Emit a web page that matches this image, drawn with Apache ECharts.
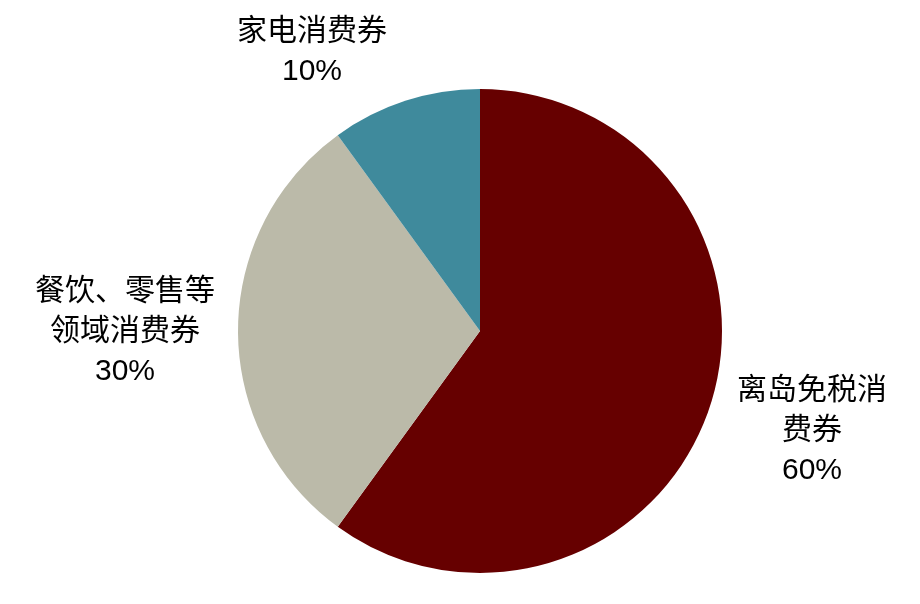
<!DOCTYPE html>
<html><head><meta charset="utf-8">
<script src="https://cdn.jsdelivr.net/npm/echarts@6/dist/echarts.min.js"></script>
<style>html,body{margin:0;padding:0;background:#fff}#c{width:920px;height:604px}</style>
</head><body><div id="c"></div>
<script>
var categories = ['离岛免税消\n费券', '餐饮、零售等\n领域消费券', '家电消费券'];
var values = [60, 30, 10];
var colors = ['#660000', '#BBBAA9', '#3F8A9C'];
var labelPos = [[812, 431], [125, 332], [312, 52]];

var chart = echarts.init(document.getElementById('c'));
chart.setOption({
  animation: false,
  series: [{
    type: 'pie',
    center: [480, 331],
    radius: [0, 242],
    startAngle: 90,
    clockwise: true,
    data: categories.map(function (n, i) {
      return { name: n, value: values[i], itemStyle: { color: colors[i] } };
    }),
    label: {
      show: true,
      position: 'outside',
      formatter: '{b}\n{c}%',
      fontSize: 30,
      lineHeight: 40,
      color: '#000',
      align: 'center',
      overflow: 'none',
      fontFamily: 'Liberation Sans, Noto Sans CJK SC, sans-serif'
    },
    labelLine: { show: false },
    labelLayout: function (p) {
      var pos = labelPos[p.dataIndex];
      return { x: pos[0], y: pos[1], align: 'center', verticalAlign: 'middle' };
    }
  }]
});
</script></body></html>
